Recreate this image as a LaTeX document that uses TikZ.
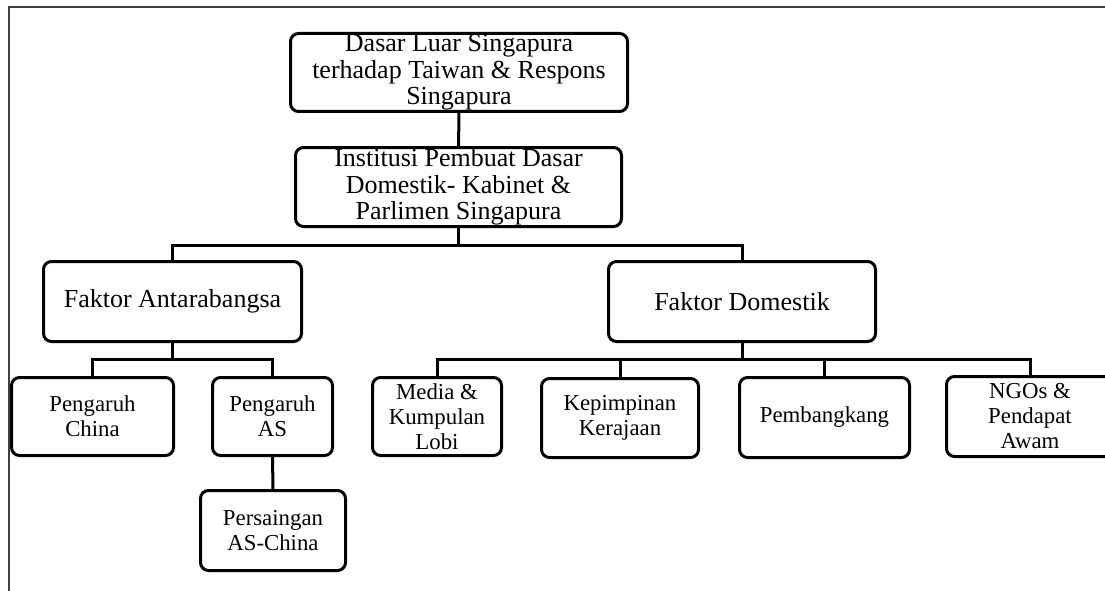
\documentclass[tikz,border=0pt]{standalone}
\usepackage{fontspec}
\setmainfont{Liberation Serif}
\usetikzlibrary{positioning}

\tikzset{
  kotak/.style={draw, line width=3pt, rounded corners=8pt, align=center, inner sep=0pt},
  besar/.style={kotak, font=\fontsize{26}{26.5}\selectfont},
  kecil/.style={kotak, font=\fontsize{22.8}{25}\selectfont},
  garis/.style={line width=3pt},
  bingkai/.style={line width=1.2pt, black!75}
}

\begin{document}
\begin{tikzpicture}[x=1pt, y=-1pt]
  \clip (0,0) rectangle (1105,591);
  \draw [bingkai] (1105,7) -- (9,7) -- (9,591);

  % aras atas
  \node (puncak) at (459,72.5) [besar, minimum width=337pt, minimum height=78pt]
    {Dasar Luar Singapura\\terhadap Taiwan \& Respons\\Singapura};
  \node (inst) at (458.5,187) [besar, minimum width=326pt, minimum height=79pt]
    {Institusi Pembuat Dasar\\Domestik- Kabinet \&\\Parlimen Singapura};

  % faktor
  \node (fa) at (172.5,301.5) [besar, minimum width=258pt, minimum height=80pt] {Faktor Antarabangsa};
  \node (fd) at (742,301.5) [besar, minimum width=267pt, minimum height=80pt] {Faktor Domestik};

  % antarabangsa
  \node (china) at (92.5,416.5) [kecil, minimum width=162pt, minimum height=78pt] {Pengaruh\\China};
  \node (as) at (272.5,416.5) [kecil, minimum width=120pt, minimum height=78pt] {Pengaruh\\AS};
  \node (saing) at (273,530.5) [kecil, minimum width=145pt, minimum height=80pt] {Persaingan\\AS-China};

  % domestik
  \node (media) at (437,416.5) [kecil, minimum width=129pt, minimum height=78pt] {Media \&\\Kumpulan\\Lobi};
  \node (kepim) at (620,418) [kecil, minimum width=157pt, minimum height=79pt] {Kepimpinan\\Kerajaan};
  \node (bangkang) at (824.5,417.5) [kecil, minimum width=170pt, minimum height=80pt] {Pembangkang};
  \node (ngo) at (1030,416.5) [kecil, minimum width=167pt, minimum height=80pt] {NGOs \&\\Pendapat\\Awam};

  \draw [garis] (puncak) -- (inst);
  \draw [garis] (inst.south) -- ++(0,17) -| (fa.north);
  \draw [garis] (inst.south) ++(0,17) -| (fd.north);

  \draw [garis] (fa.south) -- ++(0,16) -| (china.north);
  \draw [garis] (fa.south) ++(0,16) -| (as.north);
  \draw [garis] (as) -- (saing);

  \draw [garis] (fd.south) -- ++(0,16) -| (media.north);
  \draw [garis] (fd.south) ++(0,16) -| (kepim.north);
  \draw [garis] (fd.south) ++(0,16) -| (bangkang.north);
  \draw [garis] (fd.south) ++(0,16) -| (ngo.north);
\end{tikzpicture}
\end{document}
